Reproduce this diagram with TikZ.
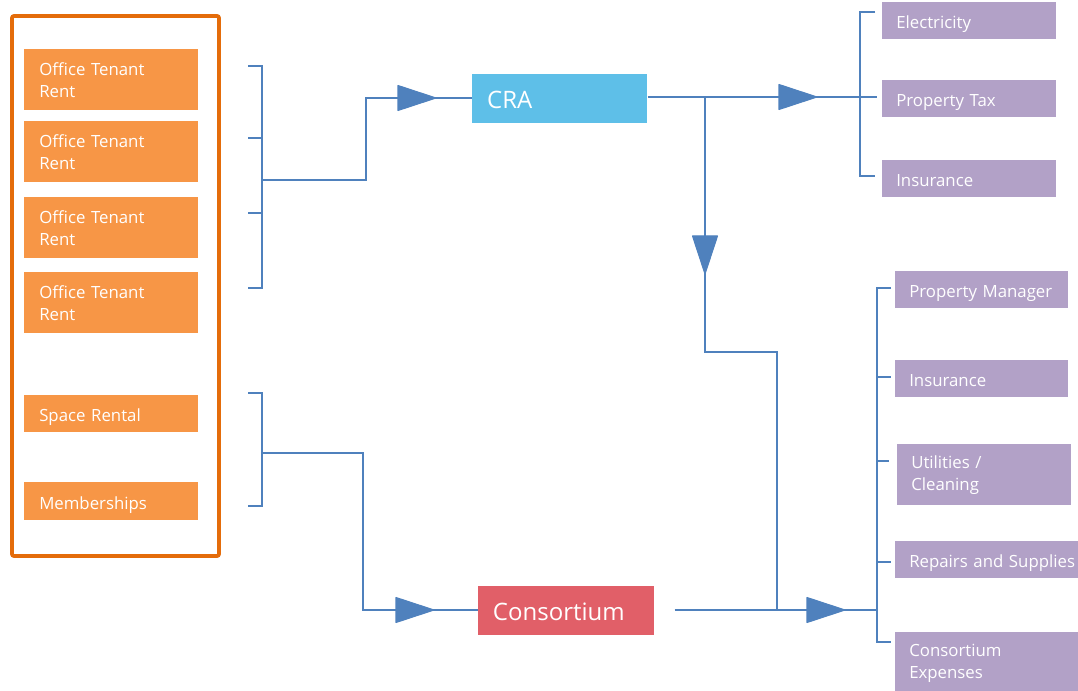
\documentclass[tikz,border=0pt]{standalone}
\usepackage{fontspec}
\setmainfont{Open Sans}
\definecolor{srcorange}{HTML}{F79646}
\definecolor{frameorange}{HTML}{E46C0A}
\definecolor{flowblue}{HTML}{4F81BD}
\definecolor{craBlue}{HTML}{5EBFE8}
\definecolor{consRed}{HTML}{E15F68}
\definecolor{costPurple}{HTML}{B2A1C7}
\newcommand{\boxfont}{\fontsize{12.6pt}{16.5pt}\selectfont}
\newcommand{\bigboxfont}{\fontsize{18pt}{22pt}\selectfont}
\tikzset{
  flow/.style={draw=flowblue, line width=1.7pt, line join=miter},
  basebox/.style={anchor=north west, text=white, align=left, inner ysep=0pt,
    inner xsep=11.25pt, font=\boxfont},
  oneline/.style={text height=12pt, text depth=0pt},
  srcbox/.style={basebox, fill=srcorange, minimum width=130.5pt, text width=108pt},
  costbox/.style={basebox, fill=costPurple, inner xsep=10.5pt},
  hubbox/.style={anchor=north west, text=white, align=left, inner ysep=0pt,
    inner xsep=11pt, font=\bigboxfont, text height=15pt, text depth=0pt},
  flowtip/.pic={\fill[flowblue, draw=flowblue, line width=0.8pt, line join=round]
    (0,-12.5) -- (38,0) -- (0,12.5) -- cycle;}
}
\begin{document}
\begin{tikzpicture}[x=0.75pt, y=-0.75pt]
\clip (0,0) rectangle (1078,691);
\fill[white] (0,0) rectangle (1078,691);

% income sources inside the orange frame
\draw[frameorange, line width=2.8pt, rounded corners=1.5pt] (12,16) rectangle (219,556);
\node[srcbox, minimum height=45.75pt] (rent1) at (24,49)  {Office Tenant\\Rent};
\node[srcbox, minimum height=45.75pt] (rent2) at (24,121) {Office Tenant\\Rent};
\node[srcbox, minimum height=45.75pt] (rent3) at (24,197) {Office Tenant\\Rent};
\node[srcbox, minimum height=45.75pt] (rent4) at (24,272) {Office Tenant\\Rent};
\node[srcbox, oneline, minimum height=27.75pt] (space) at (24,395) {Space Rental};
\node[srcbox, oneline, minimum height=28.5pt]  (member) at (24,482) {Memberships};

% the two recipients
\node[hubbox, fill=craBlue, minimum width=131.25pt, minimum height=36.75pt, text width=109pt]
  (cra) at (472,74) {CRA};
\node[hubbox, fill=consRed, minimum width=132pt, minimum height=36.75pt, text width=110pt]
  (cons) at (478,586) {Consortium};

% expense items
\node[costbox, oneline, minimum width=130.5pt, minimum height=27.75pt, text width=109.5pt] (elec) at (882,2)   {Electricity};
\node[costbox, oneline, minimum width=130.5pt, minimum height=27.75pt, text width=109.5pt] (ptax) at (882,80)  {Property Tax};
\node[costbox, oneline, minimum width=130.5pt, minimum height=27.75pt, text width=109.5pt] (ins1) at (882,160) {Insurance};
\node[costbox, oneline, minimum width=129.75pt, minimum height=27.75pt, text width=108.75pt] (pman) at (895,271) {Property Manager};
\node[costbox, oneline, minimum width=129.75pt, minimum height=27.75pt, text width=108.75pt] (ins2) at (895,360) {Insurance};
\node[costbox, minimum width=130.5pt, minimum height=45.75pt, text width=109.5pt] (util) at (897,444) {Utilities /\\Cleaning};
\node[costbox, oneline, minimum width=146pt, minimum height=27.75pt, text width=125pt] (repair) at (895,541) {Repairs and Supplies};
\node[costbox, minimum width=146pt, minimum height=46.5pt, text width=125pt] (cexp) at (895,632) {Consortium\\Expenses};

% bracket joining the tenant rents
\coordinate (rb) at (262,180);
\draw[flow] (248,66) -- (262,66) -- (262,288) -- (248,288);
\draw[flow] (248,138) -- (262,138);
\draw[flow] (248,213) -- (262,213);
\draw[flow] (rb) -- (366,180) -- (366,98) -- (cra.west |- 0,98);
\pic at (398,98) {flowtip};

% bracket joining space rental and memberships
\coordinate (sb) at (262,453);
\draw[flow] (248,393) -- (262,393) -- (262,506) -- (248,506);
\draw[flow] (sb) -- (363,453) -- (363,610) -- (cons.west |- 0,610);
\pic at (396,610) {flowtip};

% CRA pays the building costs
\coordinate (tb) at (877,97);
\draw[flow] (cra.east |- 0,97) -- (tb);
\draw[flow] (875,12) -- (860,12) -- (860,176) -- (875,176);
\pic at (779,97) {flowtip};

% CRA also feeds the consortium expenses
\coordinate (split) at (705,97);
\coordinate (join) at (777,610);
\draw[flow] (split) -- (705,352) -- (777,352) -- (join);
\pic[rotate=-90] at (705,236) {flowtip};

% consortium pays its own costs
\coordinate (cb) at (877,610);
\draw[flow] ([xshift=15pt]cons.east |- 0,610) -- (cb);
\draw[flow] (891,288) -- (877,288) -- (877,642) -- (891,642);
\draw[flow] (877,377) -- (891,377);
\draw[flow] (877,461) -- (889,461);
\draw[flow] (877,562) -- (891,562);
\pic at (807,610) {flowtip};
\end{tikzpicture}
\end{document}
